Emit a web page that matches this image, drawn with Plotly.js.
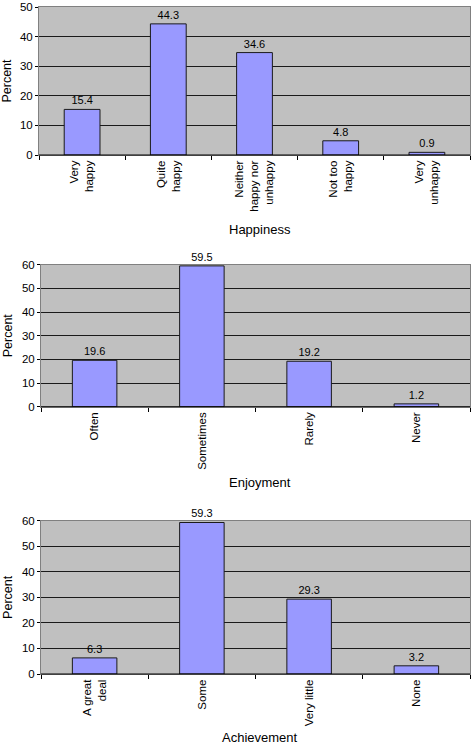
<!DOCTYPE html>
<html>
<head>
<meta charset="utf-8">
<script src="https://cdn.plot.ly/plotly-3.0.1.min.js"></script>
<style>
html,body{margin:0;padding:0;background:#fff;}
#chart{width:473px;height:745px;}
</style>
</head>
<body>
<div id="chart"></div>
<script>
// ---- Data ----
const happinessCategories = ["Very<br>happy", "Quite<br>happy", "Neither<br>happy nor<br>unhappy", "Not too<br>happy", "Very<br>unhappy"];
const happinessValues = [15.4, 44.3, 34.6, 4.8, 0.9];

const enjoymentCategories = ["Often", "Sometimes", "Rarely", "Never"];
const enjoymentValues = [19.6, 59.5, 19.2, 1.2];

const achievementCategories = ["A great<br>deal", "Some", "Very little", "None"];
const achievementValues = [6.3, 59.3, 29.3, 3.2];

const axisTitles = ["Happiness", "Enjoyment", "Achievement"];
const yTitle = "Percent";

// ---- Styling ----
const FONT = "Liberation Sans, Arial, sans-serif";
const W = 473, H = 745;
const barColor = "#9999ff";
const plotBg = "#c0c0c0";

function barTrace(cats, vals, xa, ya) {
  return {
    type: "bar",
    x: cats,
    y: vals,
    xaxis: xa,
    yaxis: ya,
    text: vals.map(v => v.toFixed(1)),
    textposition: "outside",
    constraintext: "none",
    cliponaxis: false,
    textfont: {family: FONT, size: 11, color: "#000"},
    marker: {color: barColor, line: {color: "#1a1a1a", width: 1}},
    hoverinfo: "skip",
    showlegend: false
  };
}

const data = [
  barTrace(happinessCategories, happinessValues, "x", "y"),
  barTrace(enjoymentCategories, enjoymentValues, "x2", "y2"),
  barTrace(achievementCategories, achievementValues, "x3", "y3")
];

// pixel geometry (top, bottom, left, right) for each panel
const panels = [
  {t: 7, b: 155, l: 39, r: 470, max: 50},
  {t: 264.7, b: 406.7, l: 41, r: 470, max: 60},
  {t: 520.7, b: 674, l: 41, r: 470, max: 60}
];

function xAxis(p, anchor) {
  return {
    domain: [p.l / W, p.r / W],
    anchor: anchor,
    type: "category",
    tickangle: -90,
    tickson: "boundaries",
    ticks: "outside",
    ticklen: 4,
    tickcolor: "#000",
    tickfont: {family: FONT, size: 11.5, color: "#000"},
    showline: true,
    linecolor: "#808080",
    linewidth: 1,
    mirror: true,
    showgrid: false,
    zeroline: false,
    fixedrange: true
  };
}

function yAxis(p, anchor) {
  return {
    domain: [(H - p.b) / H, (H - p.t) / H],
    anchor: anchor,
    range: [0, p.max],
    dtick: 10,
    ticks: "outside",
    ticklen: 3,
    tickcolor: "#000",
    tickfont: {family: FONT, size: 11.5, color: "#000"},
    showline: true,
    linecolor: "#808080",
    linewidth: 1,
    mirror: true,
    showgrid: true,
    gridcolor: "#1a1a1a",
    gridwidth: 1,
    zeroline: false,
    title: {text: yTitle, font: {family: FONT, size: 12.5, color: "#000"}, standoff: 6},
    fixedrange: true
  };
}

const titleY = [229, 482, 737];

const layout = {
  width: W,
  height: H,
  margin: {l: 0, r: 0, t: 0, b: 0},
  paper_bgcolor: "#fff",
  plot_bgcolor: plotBg,
  bargap: 0.585,
  showlegend: false,
  xaxis: xAxis(panels[0], "y"),
  yaxis: yAxis(panels[0], "x"),
  xaxis2: xAxis(panels[1], "y2"),
  yaxis2: yAxis(panels[1], "x2"),
  xaxis3: xAxis(panels[2], "y3"),
  yaxis3: yAxis(panels[2], "x3"),
  annotations: axisTitles.map((t, i) => ({
    text: t,
    xref: "paper", yref: "paper",
    x: 260 / W, y: (H - titleY[i]) / H,
    xanchor: "center", yanchor: "middle",
    showarrow: false,
    font: {family: FONT, size: 13, color: "#000"}
  })),
  shapes: ["", "2", "3"].map(s => ({
    type: "line",
    xref: "x" + s + " domain", yref: "y" + s + " domain",
    x0: 0, x1: 1, y0: 0, y1: 0,
    layer: "above",
    line: {color: "#000", width: 1}
  }))
};

Plotly.newPlot("chart", data, layout, {displayModeBar: false, staticPlot: true});
</script>
</body>
</html>
